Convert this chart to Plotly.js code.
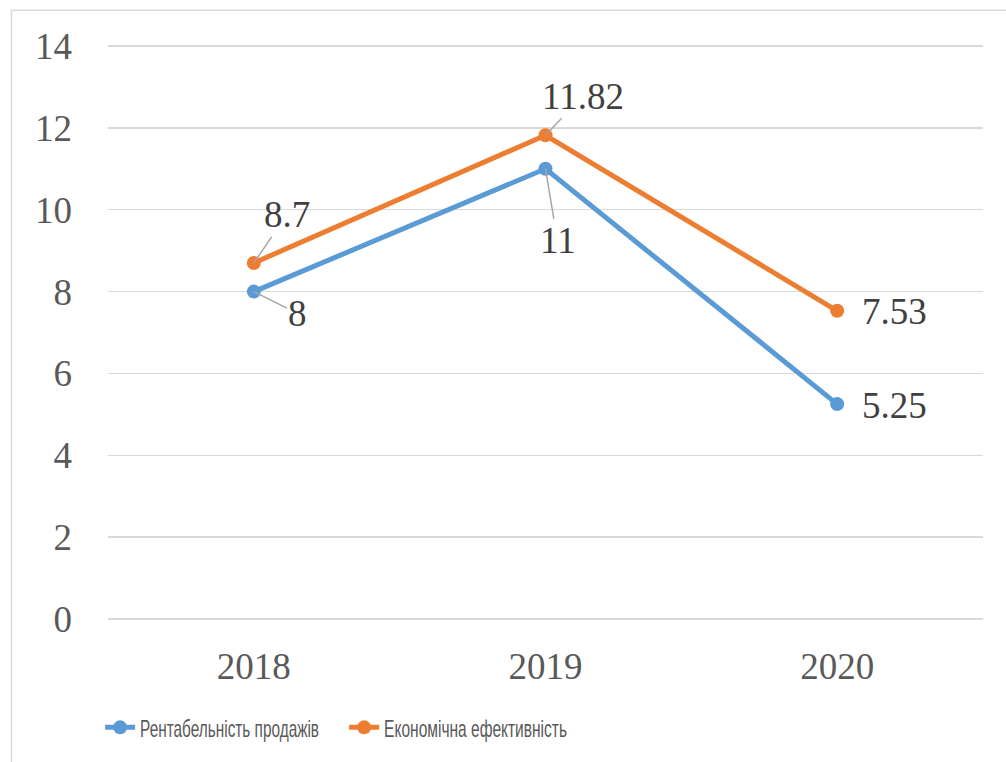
<!DOCTYPE html>
<html>
<head>
<meta charset="utf-8">
<script src="https://cdn.plot.ly/plotly-3.0.1.min.js"></script>
<style>
html,body{margin:0;padding:0;background:#fff;}
#chart{width:1006px;height:762px;}
</style>
</head>
<body>
<div id="chart"></div>
<script>
const years = ['2018', '2019', '2020'];
const salesProfitability = [8, 11, 5.25];
const economicEfficiency = [8.7, 11.82, 7.53];
const seriesNames = ['Рентабельність продажів', 'Економічна ефективність'];
const yTicks = [0, 2, 4, 6, 8, 10, 12, 14];

const serif = 'Liberation Serif';
const blue = '#5B9BD5';
const orange = '#ED7D31';

const traces = [
  {
    x: years, y: salesProfitability, name: seriesNames[0],
    type: 'scatter', mode: 'lines+markers',
    line: {color: blue, width: 5},
    marker: {color: blue, size: 14}
  },
  {
    x: years, y: economicEfficiency, name: seriesNames[1],
    type: 'scatter', mode: 'lines+markers',
    line: {color: orange, width: 5},
    marker: {color: orange, size: 14}
  }
];

// data label offsets in pixels: [dx, dy, leader line?]
const blueOffsets = [[44, 22, true], [12, 72, true], [57, 1, false]];
const orangeOffsets = [[33, -48, true], [37, -39, true], [57, 1, false]];

const annotations = [];
function addLabels(vals, offs) {
  for (let i = 0; i < vals.length; i++) {
    const o = offs[i];
    const a = {
      x: i, y: vals[i], xref: 'x', yref: 'y',
      text: String(vals[i]),
      font: {family: serif, size: 37, color: '#404040'}
    };
    if (o[2]) {
      a.showarrow = true; a.arrowhead = 0; a.arrowwidth = 1.5;
      a.arrowcolor = '#A6A6A6'; a.standoff = 0; a.ax = o[0]; a.ay = o[1];
    } else {
      a.showarrow = false; a.xshift = o[0]; a.yshift = -o[1];
    }
    annotations.push(a);
  }
}
addLabels(salesProfitability, blueOffsets);
addLabels(economicEfficiency, orangeOffsets);

const layout = {
  width: 1006, height: 762,
  margin: {l: 108, r: 23, t: 44.44, b: 136.44},
  paper_bgcolor: '#ffffff', plot_bgcolor: '#ffffff',
  showlegend: true,
  font: {family: serif},
  xaxis: {
    type: 'category', range: [-0.5, 2.5],
    showgrid: false, zeroline: false, showline: false,
    ticks: '', ticklabelstandoff: 20,
    tickfont: {family: serif, size: 37, color: '#595959'}
  },
  yaxis: {
    range: [-0.05, 14.05], tickvals: yTicks,
    showgrid: true, gridcolor: '#D9D9D9', gridwidth: 1.5,
    zeroline: false, showline: false,
    ticks: '', ticklabelstandoff: 35,
    tickfont: {family: serif, size: 37, color: '#595959'}
  },
  legend: {
    orientation: 'h', x: -0.009, xanchor: 'left', y: -0.185, yanchor: 'middle',
    font: {family: 'Liberation Sans', size: 24, color: '#595959'},
    itemclick: false, entrywidth: 199, entrywidthmode: 'pixels',
    bgcolor: 'rgba(0,0,0,0)'
  },
  annotations: annotations,
  shapes: [{
    type: 'rect', xref: 'paper', yref: 'paper',
    x0: (11.5 - 108) / 875, x1: 1.2, y0: -0.5, y1: 1.0584,
    line: {color: '#D9D9D9', width: 1.5}, fillcolor: 'rgba(0,0,0,0)', layer: 'below'
  }]
};

// condensed legend text widths as in the reference
const legendTextWidths = [179, 183];

Plotly.newPlot('chart', traces, layout, {displayModeBar: false, staticPlot: true}).then(function (gd) {
  gd.querySelectorAll('.legendtext').forEach(function (t, i) {
    const target = legendTextWidths[i];
    if (!target) return;
    const w = t.getBBox().width;
    if (!w) return;
    const sx = target / w;
    const x0 = parseFloat(t.getAttribute('x')) || 0;
    t.setAttribute('x', x0 / sx);
    t.setAttribute('transform', 'scale(' + sx + ',1)');
  });
});
</script>
</body>
</html>
